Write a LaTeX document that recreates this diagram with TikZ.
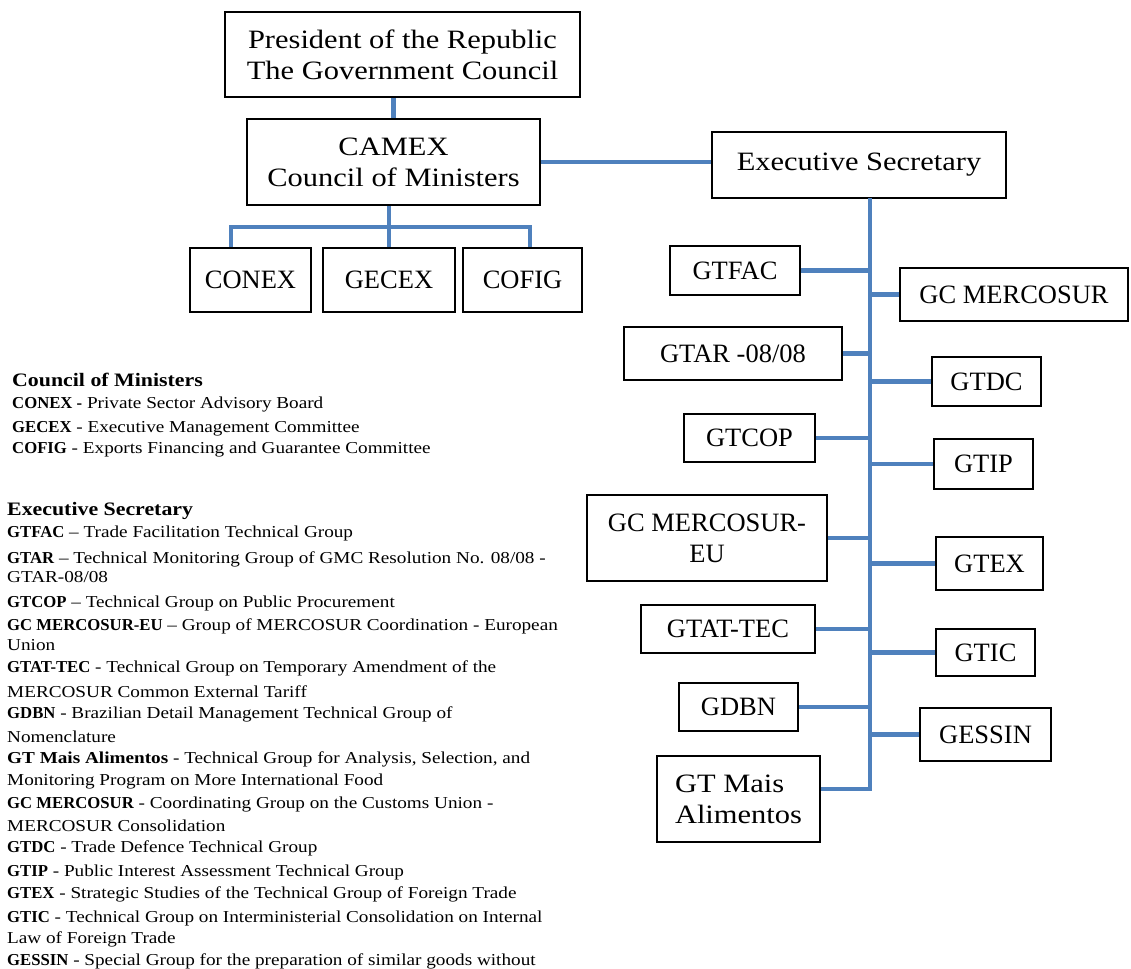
\documentclass[tikz,border=0pt]{standalone}
\usepackage{fontspec}
\setmainfont{Liberation Serif}[FakeStretch=1.15]
\newfontfamily\capsfont{Liberation Serif}
\usetikzlibrary{calc}
\definecolor{linkblue}{RGB}{79,129,189}
\newcommand{\boxfont}{\fontsize{26.5}{31}\selectfont}
\newcommand{\capsboxfont}{\capsfont\fontsize{26.5}{31}\selectfont}
\newcommand{\legfont}{\fontsize{16.7}{19}\selectfont}
\newcommand{\headfont}{\fontsize{19}{22}\selectfont\bfseries}
\newcommand{\lab}[1]{{\capsfont\bfseries #1}}
\tikzset{
  unit/.style={draw, line width=1.8pt, inner sep=0pt, font=\capsboxfont, align=center},
  mixed/.style={font=\boxfont},
  link/.style={draw=linkblue, line width=4.5pt},
  leg/.style={anchor=base west, inner sep=0pt, font=\legfont},
  leghead/.style={anchor=base west, inner sep=0pt, font=\headfont},
}
\begin{document}
\begin{tikzpicture}[x=1pt, y=-1pt]
\useasboundingbox (0,0) rectangle (1131,968);
\fill[white] (0,0) rectangle (1131,968);

% top of the hierarchy
\node[unit, mixed, minimum width=355, minimum height=85] (pres) at (402.5,54.5) {President of the Republic\\The Government Council};
\node[unit, mixed, minimum width=293, minimum height=86] (camex) at (393.5,162) {CAMEX\\Council of Ministers};
\node[unit, minimum width=121, minimum height=64] (conex) at (250.5,280) {CONEX};
\node[unit, minimum width=132, minimum height=64] (gecex) at (389,280) {GECEX};
\node[unit, minimum width=119, minimum height=64] (cofig) at (522.5,280) {COFIG};
\node[unit, mixed, minimum width=294, minimum height=66] (exec) at (859,165) {Executive Secretary};

% groups under the Executive Secretary
\node[unit, minimum width=130, minimum height=49] (gtfac) at (735,270.5) {GTFAC};
\node[unit, minimum width=228, minimum height=53] (gcmerc) at (1014,294.5) {GC MERCOSUR};
\node[unit, minimum width=218, minimum height=53] (gtar) at (733,353.5) {GTAR -08/08};
\node[unit, minimum width=109, minimum height=49] (gtdc) at (986.5,381.5) {GTDC};
\node[unit, minimum width=131, minimum height=48] (gtcop) at (749.5,438) {GTCOP};
\node[unit, minimum width=99, minimum height=50] (gtip) at (983.5,464) {GTIP};
\node[unit, minimum width=240, minimum height=86] (gceu) at (707,538) {GC MERCOSUR-\\EU};
\node[unit, minimum width=107, minimum height=53] (gtex) at (989.5,563.5) {GTEX};
\node[unit, minimum width=174, minimum height=48] (gtat) at (728,629) {GTAT-TEC};
\node[unit, minimum width=99, minimum height=47] (gtic) at (985.5,652.5) {GTIC};
\node[unit, minimum width=119, minimum height=48] (gdbn) at (738.5,707) {GDBN};
\node[unit, minimum width=131, minimum height=53] (gessin) at (985.5,734.5) {GESSIN};
\node[unit, mixed, minimum width=163, minimum height=86, align=left] (gtmais) at (738.5,799) {GT Mais\\Alimentos};

% connectors
\coordinate (busL) at (231,227);
\coordinate (busR) at (530,227);
\coordinate (trunkTop) at (870,198);
\coordinate (trunkEnd) at (870,789);
\draw[link] (camex.north) -- (camex.north |- pres.south);
\draw[link] (camex.east) -- (camex.east -| exec.west);
\draw[link] (gecex.north) -- (gecex.north |- camex.south);
\draw[link] (conex.north -| busL) -- (busL) -- (busR) -- (cofig.north -| busR);
\draw[link] (trunkTop) -- (trunkEnd) -- (trunkEnd -| gtmais.east);
\foreach \g in {gtfac,gtar,gtcop,gceu,gtat,gdbn} {
  \draw[link] (\g.east) -- (\g.east -| trunkTop);
}
\foreach \g in {gcmerc,gtdc,gtip,gtex,gtic,gessin} {
  \draw[link] (\g.west) -- (\g.west -| trunkTop);
}

% legend
\node[leghead] (h1) at (12,386) {Council of Ministers};
\node[leg] (l1) at (12,408) {\lab{CONEX -} Private Sector Advisory Board};
\node[leg] (l2) at (12,432) {\lab{GECEX} - Executive Management Committee};
\node[leg] (l3) at (12,453) {\lab{COFIG} - Exports Financing and Guarantee Committee};
\node[leghead] (h2) at (7,515) {Executive Secretary};
\node[leg] (l4) at (7,537) {\lab{GTFAC} – Trade Facilitation Technical Group};
\node[leg] (l5) at (7,563) {\lab{GTAR} – Technical Monitoring Group of GMC Resolution No. 08/08 -};
\node[leg] (l6) at (7,582) {GTAR-08/08};
\node[leg] (l7) at (7,607) {\lab{GTCOP} – Technical Group on Public Procurement};
\node[leg] (l8) at (7,630) {\lab{GC MERCOSUR-EU} – Group of MERCOSUR Coordination - European};
\node[leg] (l9) at (7,650) {Union};
\node[leg] (l10) at (7,672) {\lab{GTAT-TEC} - Technical Group on Temporary Amendment of the};
\node[leg] (l11) at (7,697) {MERCOSUR Common External Tariff};
\node[leg] (l12) at (7,718) {\lab{GDBN} - Brazilian Detail Management Technical Group of};
\node[leg] (l13) at (7,742) {Nomenclature};
\node[leg] (l14) at (7,763) {\textbf{GT Mais Alimentos} - Technical Group for Analysis, Selection, and};
\node[leg] (l15) at (7,785) {Monitoring Program on More International Food};
\node[leg] (l16) at (7,808) {\lab{GC MERCOSUR} - Coordinating Group on the Customs Union -};
\node[leg] (l17) at (7,831) {MERCOSUR Consolidation};
\node[leg] (l18) at (7,852) {\lab{GTDC} - Trade Defence Technical Group};
\node[leg] (l19) at (7,876) {\lab{GTIP} - Public Interest Assessment Technical Group};
\node[leg] (l20) at (7,898) {\lab{GTEX} - Strategic Studies of the Technical Group of Foreign Trade};
\node[leg] (l21) at (7,922) {\lab{GTIC} - Technical Group on Interministerial Consolidation on Internal};
\node[leg] (l22) at (7,943) {Law of Foreign Trade};
\node[leg] (l23) at (7,965) {\lab{GESSIN} - Special Group for the preparation of similar goods without};
\end{tikzpicture}
\end{document}
